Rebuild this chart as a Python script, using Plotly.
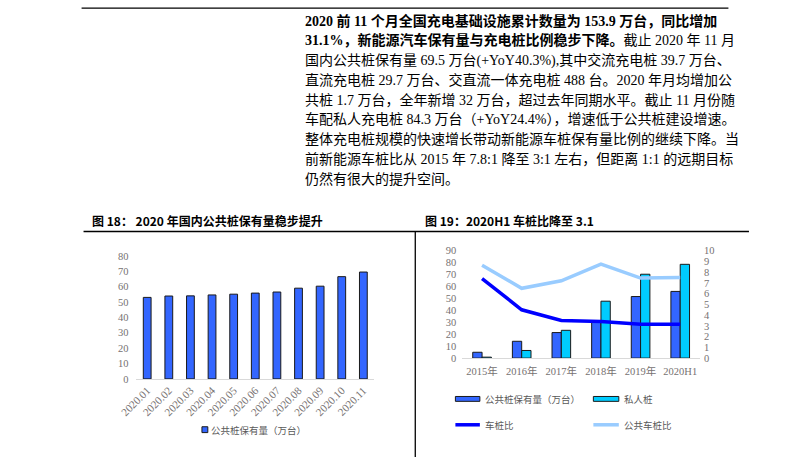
import plotly.graph_objects as go

W, H = 793, 463

# ---------------- data ----------------
months = ["2020.01", "2020.02", "2020.03", "2020.04", "2020.05", "2020.06",
          "2020.07", "2020.08", "2020.09", "2020.10", "2020.11"]
public_2020 = [53.0, 53.9, 54.0, 54.6, 55.1, 55.8, 56.5, 59.0, 60.3, 66.5, 69.5]

years = ["2015年", "2016年", "2017年", "2018年", "2019年", "2020H1"]
public_piles = [4.9, 14.1, 21.4, 30.0, 51.6, 55.9]
private_piles = [0.8, 6.4, 23.3, 47.7, 70.3, 78.6]
car_pile_ratio = [7.4, 4.5, 3.5, 3.4, 3.15, 3.15]
public_car_pile_ratio = [8.65, 6.5, 7.2, 8.75, 7.45, 7.5]

para_lines = [
    "<b>2020 前 11 个月全国充电基础设施累计数量为 153.9 万台，同比增加</b>",
    "<b>31.1%，新能源汽车保有量与充电桩比例稳步下降。</b>截止 2020 年 11 月",
    "国内公共桩保有量 69.5 万台(+YoY40.3%),其中交流充电桩 39.7 万台、",
    "直流充电桩 29.7 万台、交直流一体充电桩 488 台。2020 年月均增加公",
    "共桩 1.7 万台，全年新增 32 万台，超过去年同期水平。截止 11 月份随",
    "车配私人充电桩 84.3 万台（+YoY24.4%），增速低于公共桩建设增速。",
    "整体充电桩规模的快速增长带动新能源车桩保有量比例的继续下降。当",
    "前新能源车桩比从 2015 年 7.8:1 降至 3:1 左右，但距离 1:1 的远期目标",
    "仍然有很大的提升空间。",
]

# ---------------- helpers ----------------
def X(px):
    return px / W

def Y(py):
    return 1 - py / H

BLUE = "#3366FF"
CYAN = "#00CCFF"
EDGE = "#1a1a1a"
DARKLINE = "#0000FF"
LIGHTLINE = "#99CCFF"
TICKC = "#767171"
SERIF = "Liberation Serif, Noto Sans CJK SC"
CJK = "Noto Sans CJK SC"
tickfont = dict(family=SERIF, size=10.5, color=TICKC)

fig = go.Figure()

# left chart
fig.add_trace(go.Bar(x=months, y=public_2020, xaxis="x", yaxis="y",
                     width=0.36, offset=-0.18,
                     marker=dict(color=BLUE, line=dict(color=EDGE, width=1)),
                     showlegend=False))

# right chart
fig.add_trace(go.Bar(x=years, y=public_piles, xaxis="x2", yaxis="y2",
                     width=0.235, offset=-0.235,
                     marker=dict(color=BLUE, line=dict(color=EDGE, width=1)),
                     showlegend=False))
fig.add_trace(go.Bar(x=years, y=private_piles, xaxis="x2", yaxis="y2",
                     width=0.235, offset=0.0,
                     marker=dict(color=CYAN, line=dict(color=EDGE, width=1)),
                     showlegend=False))
fig.add_trace(go.Scatter(x=years, y=public_car_pile_ratio, xaxis="x2", yaxis="y3",
                         mode="lines", line=dict(color=LIGHTLINE, width=3.5),
                         showlegend=False))
fig.add_trace(go.Scatter(x=years, y=car_pile_ratio, xaxis="x2", yaxis="y3",
                         mode="lines", line=dict(color=DARKLINE, width=3.5),
                         showlegend=False))

fig.update_layout(
    width=W, height=H,
    margin=dict(l=0, r=0, t=0, b=0),
    paper_bgcolor="white", plot_bgcolor="rgba(0,0,0,0)",
    barmode="overlay",
    xaxis=dict(domain=[X(122), X(365)], anchor="y", type="category",
               range=[-0.5, len(months) - 0.5],
               showline=True, linecolor="#d9d9d9", linewidth=1,
               showgrid=False, zeroline=False, ticks="",
               tickangle=-45, tickfont=dict(family=SERIF, size=11, color=TICKC)),
    yaxis=dict(domain=[Y(383), Y(257)], anchor="x", range=[0, 80], dtick=10,
               showline=False, showgrid=False, zeroline=False, ticks="",
               tickfont=tickfont, ticklabelstandoff=7),
    xaxis2=dict(domain=[X(455), X(698)], anchor="y2", type="category",
                range=[-0.5, len(years) - 0.5],
                showline=True, linecolor="#d9d9d9", linewidth=1,
                showgrid=False, zeroline=False, ticks="",
                tickfont=tickfont, ticklabelstandoff=3),
    yaxis2=dict(domain=[Y(361.7), Y(251.7)], anchor="x2", range=[0, 90], dtick=10,
                showline=False, showgrid=False, zeroline=False, ticks="",
                tickfont=tickfont, ticklabelstandoff=5),
    yaxis3=dict(overlaying="y2", side="right", anchor="x2", range=[0, 10], dtick=1,
                showline=False, showgrid=False, zeroline=False, ticks="",
                tickfont=tickfont, ticklabelstandoff=3),
)

shapes = []
annotations = []

# frame lines
shapes.append(dict(type="line", xref="paper", yref="paper",
                   x0=X(66), x1=X(727), y0=Y(3.3), y1=Y(3.3),
                   line=dict(color="black", width=1.3)))
shapes.append(dict(type="line", xref="paper", yref="paper",
                   x0=X(68), x1=X(748), y0=Y(232), y1=Y(232),
                   line=dict(color="black", width=1.3)))
shapes.append(dict(type="line", xref="paper", yref="paper",
                   x0=X(407), x1=X(407), y0=Y(232), y1=Y(463),
                   line=dict(color="black", width=1.3)))

# paragraph
for i, t in enumerate(para_lines):
    annotations.append(dict(text=t, xref="paper", yref="paper",
                            x=X(292), y=Y(16 + i * 20.25),
                            xanchor="left", yanchor="middle", showarrow=False,
                            font=dict(family=SERIF, size=14, color="black")))

# chart titles
annotations.append(dict(text="<b>图 18： 2020 年国内公共桩保有量稳步提升</b>",
                        xref="paper", yref="paper", x=X(75), y=Y(220.5),
                        xanchor="left", yanchor="middle", showarrow=False,
                        font=dict(family=CJK, size=12, color="black")))
annotations.append(dict(text="<b>图 19：2020H1 车桩比降至 3.1</b>",
                        xref="paper", yref="paper", x=X(415), y=Y(220.5),
                        xanchor="left", yanchor="middle", showarrow=False,
                        font=dict(family=CJK, size=12, color="black")))

legfont = dict(family=CJK, size=9.5, color="#595959")

# left legend
shapes.append(dict(type="rect", xref="paper", yref="paper",
                   x0=X(189), x1=X(195), y0=Y(438), y1=Y(432),
                   fillcolor=BLUE, line=dict(color=EDGE, width=1)))
annotations.append(dict(text="公共桩保有量（万台）", xref="paper", yref="paper",
                        x=X(196), y=Y(435), xanchor="left", yanchor="middle",
                        showarrow=False, font=legfont))

# right legend
shapes.append(dict(type="rect", xref="paper", yref="paper",
                   x0=X(448), x1=X(473), y0=Y(406), y1=Y(401),
                   fillcolor=BLUE, line=dict(color=EDGE, width=1)))
annotations.append(dict(text="公共桩保有量（万台）", xref="paper", yref="paper",
                        x=X(476), y=Y(403.5), xanchor="left", yanchor="middle",
                        showarrow=False, font=legfont))
shapes.append(dict(type="rect", xref="paper", yref="paper",
                   x0=X(589), x1=X(615), y0=Y(406), y1=Y(401),
                   fillcolor=CYAN, line=dict(color=EDGE, width=1)))
annotations.append(dict(text="私人桩", xref="paper", yref="paper",
                        x=X(618), y=Y(403.5), xanchor="left", yanchor="middle",
                        showarrow=False, font=legfont))
shapes.append(dict(type="line", xref="paper", yref="paper",
                   x0=X(448), x1=X(473), y0=Y(430), y1=Y(430),
                   line=dict(color=DARKLINE, width=3.5)))
annotations.append(dict(text="车桩比", xref="paper", yref="paper",
                        x=X(476), y=Y(430), xanchor="left", yanchor="middle",
                        showarrow=False, font=legfont))
shapes.append(dict(type="line", xref="paper", yref="paper",
                   x0=X(589), x1=X(615), y0=Y(430), y1=Y(430),
                   line=dict(color=LIGHTLINE, width=3.5)))
annotations.append(dict(text="公共车桩比", xref="paper", yref="paper",
                        x=X(618), y=Y(430), xanchor="left", yanchor="middle",
                        showarrow=False, font=legfont))

fig.update_layout(shapes=shapes, annotations=annotations)

fig.write_html("out.html")
